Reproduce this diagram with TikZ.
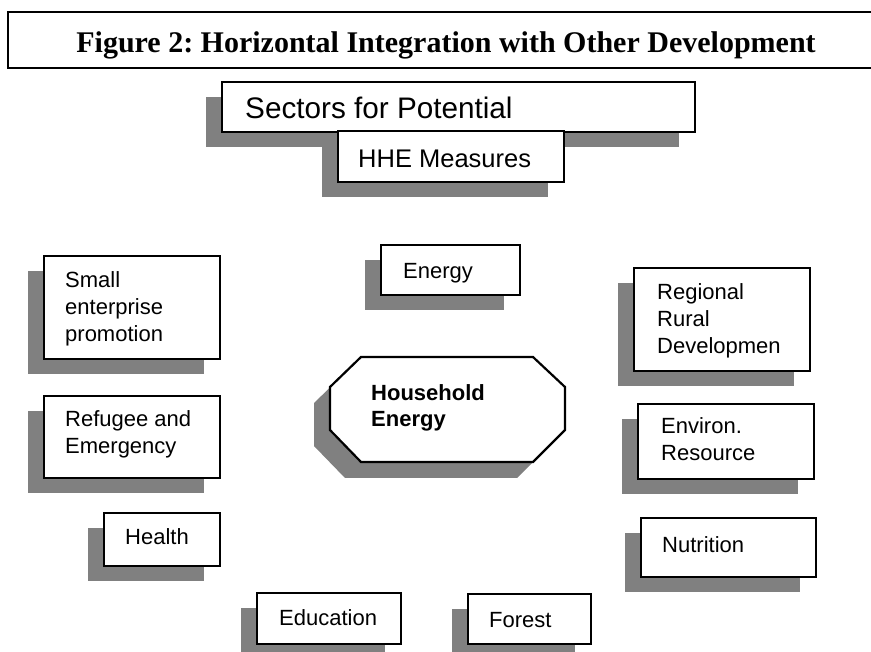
\documentclass[tikz,border=0pt]{standalone}
\usepackage{fontspec}
\setmainfont{Liberation Serif}
\newfontfamily\arialf{Liberation Sans}
\usetikzlibrary{shadows}
\definecolor{shadowgray}{HTML}{808080}
\newcommand\lines[1]{\begin{tabular}[t]{@{}l@{}}#1\end{tabular}}
\tikzset{
  sbox/.style={draw=black, line width=2.2pt, fill=white, inner sep=0pt, anchor=north west,
    drop shadow={shadow xshift=-16pt, shadow yshift=-15pt, fill=shadowgray, opacity=1}},
  lbl/.style={anchor=base west, inner sep=0pt, font=\arialf\fontsize{22}{27}\selectfont},
}
\frenchspacing
\begin{document}
\begin{tikzpicture}[x=1pt,y=-1pt]
\useasboundingbox[fill=white] (0,0) rectangle (871,652);
% title
\node[draw=black, line width=2.4pt, minimum width=880pt, minimum height=56pt, inner sep=0pt, anchor=north west] (titlebox) at (7,11) {};
\node[anchor=base, inner sep=0pt, font=\frenchspacing\bfseries\fontsize{30}{36}\selectfont] (title) at (446,53) {Figure 2: Horizontal Integration with Other Development};
% header boxes
\node[sbox, minimum width=473pt, minimum height=50pt] (sectors) at (221,81) {};
\node[lbl, font=\arialf\fontsize{29.7}{35}\selectfont] (sectorst) at (245,119) {Sectors for Potential};
\node[sbox, minimum width=226pt, minimum height=51pt] (hhe) at (337,130) {};
\node[lbl, font=\arialf\fontsize{25.5}{30}\selectfont] (hhet) at (358,168) {HHE Measures};
% sector boxes
\node[sbox, minimum width=139pt, minimum height=50pt] (energy) at (380,244) {};
\node[lbl] (energyt) at (403,279) {Energy};
\node[sbox, minimum width=176pt, minimum height=103pt] (small) at (43,255) {};
\node[lbl] (smallt) at (65,288) {\lines{Small\\enterprise\\promotion}};
\node[sbox, minimum width=176pt, minimum height=82pt] (refugee) at (43,395) {};
\node[lbl] (refugeet) at (65,427) {\lines{Refugee and\\Emergency}};
\node[sbox, minimum width=116pt, minimum height=53pt] (health) at (103,512) {};
\node[lbl] (healtht) at (125,544) {Health};
\node[sbox, minimum width=144pt, minimum height=51pt] (education) at (256,592) {};
\node[lbl] (educationt) at (279,625) {Education};
\node[sbox, minimum width=123pt, minimum height=50pt] (forest) at (467,593) {};
\node[lbl] (forestt) at (489,627) {Forest};
\node[sbox, minimum width=176pt, minimum height=103pt] (regional) at (633,267) {};
\node[lbl] (regionalt) at (657,300) {\lines{Regional\\Rural\\Developmen}};
\node[sbox, minimum width=176pt, minimum height=75pt] (environ) at (637,403) {};
\node[lbl] (environt) at (661,434) {\lines{Environ.\\Resource}};
\node[sbox, minimum width=175pt, minimum height=59pt] (nutrition) at (640,517) {};
\node[lbl] (nutritiont) at (662,552) {Nutrition};
% central octagon
\draw[line width=2.2pt, fill=white, drop shadow={shadow xshift=-16pt, shadow yshift=-16pt, fill=shadowgray, opacity=1}]
  (361,357) -- (533,357) -- (565,387) -- (565,430) -- (533,462) -- (361,462) -- (330,430) -- (330,387) -- cycle;
\node[lbl, font=\arialf\bfseries\fontsize{22}{26}\selectfont] (household) at (371,401) {\lines{Household\\Energy}};
\end{tikzpicture}
\end{document}
